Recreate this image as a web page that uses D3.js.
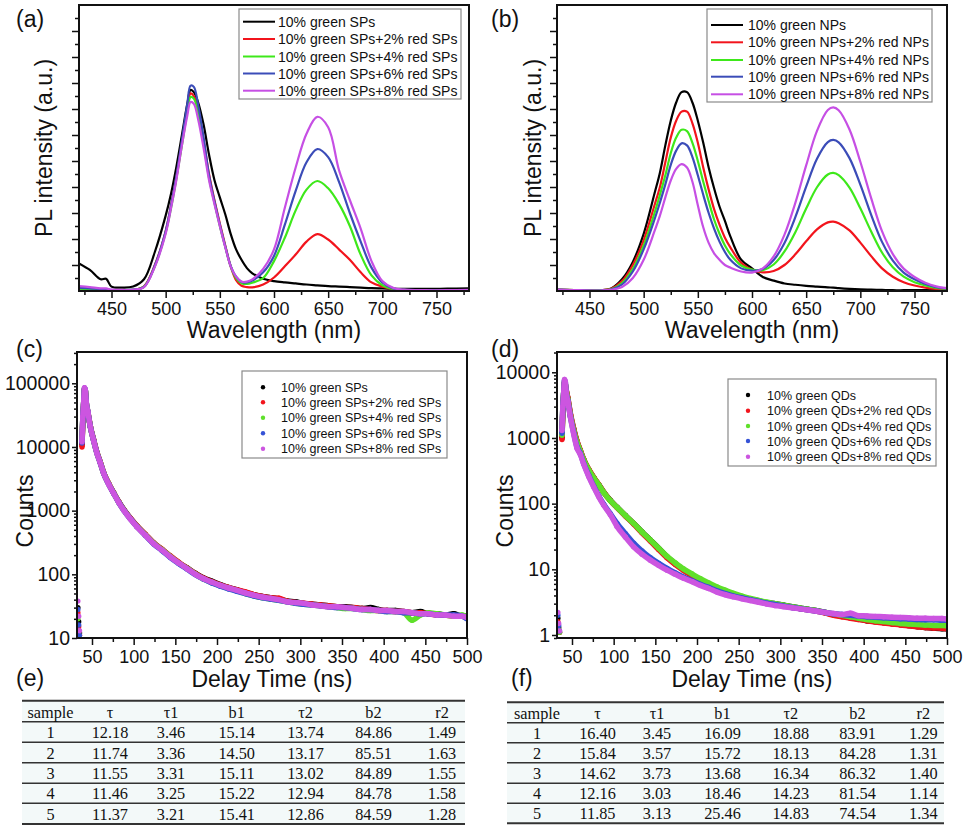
<!DOCTYPE html>
<html>
<head>
<meta charset="utf-8">
<script src="https://cdn.jsdelivr.net/npm/d3@7"></script>
<style>
  body { margin: 0; background: #fff; }
  svg { display: block; font-family: "Liberation Sans", Arial, sans-serif; }
</style>
</head>
<body>
<svg id="fig" width="967" height="829"></svg>
<script>
// ---- (a) PL spectra, SPs ----
var wlA = [420,430,440,445,450,460,470,480,490,500,505,510,515,520,523,526,530,535,540,545,550,555,560,565,570,575,580,590,600,610,620,630,640,650,660,670,680,690,700,710,720,740,760,780];
var aBlack  = [1.06,0.81,0.45,0.47,0.17,0.13,0.17,0.45,1.5,2.9,3.75,4.8,6.0,7.2,7.73,7.65,7.25,6.4,5.25,4.27,3.6,2.95,2.2,1.6,1.2,0.88,0.68,0.47,0.38,0.33,0.29,0.25,0.22,0.19,0.17,0.15,0.13,0.11,0.1,0.09,0.08,0.08,0.09,0.1];
var aRed    = [0.05,0.04,0.03,0.03,0.02,0.02,0.04,0.18,1.0,2.3,3.3,4.4,5.7,7.0,7.6,7.5,6.95,5.8,4.5,3.5,2.6,1.75,0.95,0.42,0.2,0.15,0.14,0.25,0.52,0.95,1.4,1.9,2.19,1.98,1.6,1.2,0.72,0.33,0.17,0.08,0.04,0.03,0.03,0.03];
var aGreen  = [0.06,0.05,0.04,0.04,0.03,0.03,0.05,0.17,0.95,2.25,3.2,4.35,5.6,6.9,7.46,7.4,6.85,5.7,4.35,3.4,2.5,1.7,0.95,0.5,0.3,0.27,0.32,0.5,1.15,2.05,3.1,3.9,4.23,3.95,3.35,2.5,1.4,0.6,0.22,0.08,0.04,0.03,0.03,0.03];
var aBlue   = [0.12,0.1,0.07,0.07,0.04,0.03,0.05,0.16,0.98,2.3,3.3,4.45,5.8,7.2,7.9,7.85,7.15,5.9,4.45,3.45,2.55,1.72,0.97,0.55,0.35,0.33,0.4,0.72,1.35,2.55,3.85,4.95,5.46,5.15,4.2,3.0,1.9,0.9,0.33,0.1,0.05,0.03,0.03,0.03];
var aPurple = [0.19,0.15,0.1,0.1,0.05,0.04,0.05,0.15,0.93,2.2,3.2,4.3,5.6,6.75,7.27,7.2,6.6,5.5,4.27,3.35,2.5,1.68,0.95,0.55,0.36,0.36,0.45,0.85,1.6,3.2,4.75,6.05,6.7,6.3,4.65,3.5,2.4,1.15,0.38,0.12,0.05,0.03,0.03,0.04];
var legendA = ["10% green SPs","10% green SPs+2% red SPs","10% green SPs+4% red SPs","10% green SPs+6% red SPs","10% green SPs+8% red SPs"];

// ---- (b) PL spectra, NPs ----
var wlB = [420,440,460,470,480,490,500,510,515,520,525,530,535,540,545,550,555,560,565,570,575,580,590,600,610,620,630,640,650,660,670,675,680,690,700,710,720,730,740,750,760,770,780];
var bBlack  = [0.05,0.03,0.03,0.1,0.45,1.12,2.2,3.75,4.55,5.6,6.55,7.25,7.65,7.65,7.25,6.55,5.7,4.75,3.95,3.25,2.7,2.1,1.2,0.87,0.54,0.4,0.29,0.24,0.2,0.17,0.14,0.13,0.11,0.08,0.06,0.05,0.04,0.03,0.03,0.03,0.03,0.03,0.03];
var bRed    = [0.05,0.03,0.03,0.09,0.38,1.0,1.95,3.3,4.0,4.95,5.9,6.55,6.9,6.9,6.45,5.7,4.75,3.9,3.15,2.55,2.05,1.68,1.08,0.82,0.72,0.77,1.0,1.41,1.91,2.37,2.64,2.67,2.61,2.33,1.86,1.34,0.87,0.55,0.34,0.21,0.13,0.08,0.05];
var bGreen  = [0.05,0.03,0.03,0.07,0.3,0.85,1.75,3.0,3.7,4.45,5.3,5.9,6.2,6.15,5.7,5.0,4.2,3.45,2.75,2.2,1.75,1.42,0.98,0.82,0.8,1.02,1.52,2.26,3.17,3.99,4.48,4.54,4.46,3.98,3.18,2.29,1.48,0.91,0.55,0.34,0.21,0.12,0.08];
var bBlue   = [0.05,0.03,0.02,0.06,0.25,0.75,1.6,2.75,3.4,4.1,4.85,5.4,5.68,5.6,5.15,4.45,3.7,3.0,2.4,1.9,1.5,1.2,0.87,0.78,0.85,1.19,1.85,2.84,4.01,5.09,5.73,5.81,5.72,5.11,4.09,2.93,1.89,1.17,0.71,0.45,0.27,0.15,0.1];
var bPurple = [0.05,0.03,0.02,0.04,0.15,0.5,1.2,2.3,2.9,3.6,4.25,4.7,4.88,4.75,4.2,3.3,2.45,1.85,1.45,1.2,1.0,0.9,0.75,0.71,0.87,1.33,2.17,3.39,4.83,6.16,6.96,7.06,6.95,6.21,4.97,3.57,2.3,1.42,0.86,0.54,0.32,0.18,0.11];
var legendB = ["10% green NPs","10% green NPs+2% red NPs","10% green NPs+4% red NPs","10% green NPs+6% red NPs","10% green NPs+8% red NPs"];

// ---- (c)/(d) decay curves ----
var delayT = [33,34,35,38,39,40,41,42,43,45,48,52,56,60,64,70,76,82,88,96,104,114,124,134,144,154,164,174,184,194,204,214,224,234,244,254,264,274,284,294,304,314,324,334,344,354,364,374,384,394,404,414,424,434,444,454,464,474,484,494,500];
var cBlack  = [30,18,12,11000,28000,47000,80000,75000,50000,35000,21000,12800,8100,5700,3900,2650,1900,1380,1050,760,570,420,310,245,192,152,126,104,88,78,69,62,57,52,48,45,43,41,38,37,35,34,33,32,31,31,30,29,30,28,27,27,26,25,26,24,24,23,24,22,22];
var cRed    = [25,15,11,10000,27000,48000,82000,76000,51000,35500,21200,12900,8150,5750,3950,2680,1910,1390,1040,765,575,425,312,248,195,155,126,103,87,76,68,62,57,53,48,45,43,42,38,36,35,34,33,32,31,30,30,29,28,27,27,26,26,25,25,24,23,23,22,22,21];
var cGreen  = [20,12,10,12500,29000,49000,83000,77000,51500,35800,20900,12600,8000,5650,3880,2620,1880,1360,1030,750,565,415,306,244,190,151,124,101,84,74,66,60,55,50,46,43,41,39,37,35,34,33,32,31,30,29,29,28,27,27,26,26,25,19,23,25,24,23,22,23,21];
var cBlue   = [28,16,11,11500,29500,49500,84000,77500,51800,35900,20700,12500,7950,5600,3860,2610,1870,1355,1020,745,558,408,300,236,184,148,121,99,84,73,65,59,54,50,46,43,41,39,37,35,34,33,32,31,30,30,29,28,28,27,26,26,25,25,24,24,23,23,23,22,20];
var cPurple = [38,22,13,12000,30000,50000,85000,78000,52000,36000,20800,12500,7900,5600,3850,2600,1860,1350,1020,740,556,410,302,240,187,150,123,100,85,75,67,61,56,51,47,44,42,40,37,36,35,33,32,31,31,30,29,28,28,27,27,26,26,25,24,24,23,23,22,22,21];
var legendC = legendA;

var dBlack  = [1.8,1.3,1.1,1000,2800,4700,7000,6500,5400,4000,2300,1350,880,640,470,330,250,195,150,112,88,66,50,37,28,21,15.5,12.2,9.8,8.2,6.9,6.0,5.2,4.6,4.1,3.8,3.5,3.3,3.1,3.0,2.85,2.7,2.55,2.45,2.35,2.2,2.05,1.95,1.85,1.75,1.65,1.6,1.55,1.5,1.45,1.4,1.35,1.3,1.27,1.25,1.25];
var dRed    = [1.6,1.2,1.1,950,2600,4500,6800,6400,5400,4100,2400,1400,900,650,475,335,252,196,150,111,87,65,49,36,27,20,15,11.8,9.6,8.0,6.8,5.9,5.1,4.5,4.0,3.7,3.45,3.25,3.05,2.95,2.8,2.65,2.5,2.4,2.3,2.15,2.0,1.9,1.8,1.72,1.65,1.58,1.52,1.47,1.42,1.38,1.34,1.3,1.28,1.27,1.25];
var dGreen  = [1.5,1.2,1.1,1100,2900,4900,7200,6600,5300,3900,2250,1320,860,630,465,328,248,193,148,111,88,66,50,37,28,21,15.8,12.5,10.1,8.5,7.2,6.2,5.4,4.8,4.3,3.9,3.6,3.35,3.15,3.0,2.85,2.7,2.55,2.45,2.35,2.2,2.1,2.0,1.9,1.8,1.72,1.65,1.6,1.55,1.5,1.47,1.45,1.42,1.4,1.4,1.38];
var dBlue   = [2.0,1.4,1.15,1180,3000,4800,7500,7000,5000,3700,2150,1200,730,580,410,270,185,132,98,70,50,35,25,19,15,12.3,10.3,8.8,7.6,6.7,5.9,5.3,4.7,4.25,3.9,3.65,3.45,3.25,3.05,2.9,2.75,2.62,2.5,2.4,2.3,2.2,2.1,2.05,2.0,1.95,1.9,1.87,1.83,1.8,1.77,1.75,1.72,1.7,1.7,1.68,1.68];
var dPurple = [2.2,1.5,1.15,1300,3000,4800,7800,7200,5000,3600,2100,1150,700,560,400,260,180,128,95,68,45,31,22,17,13.8,11.5,9.7,8.4,7.3,6.5,5.7,5.1,4.5,4.1,3.8,3.55,3.35,3.15,2.95,2.8,2.7,2.6,2.5,2.4,2.3,2.2,2.12,2.05,2.15,1.97,1.95,1.92,1.9,1.87,1.85,1.83,1.8,1.8,1.78,1.78,1.75];
var legendD = ["10% green QDs","10% green QDs+2% red QDs","10% green QDs+4% red QDs","10% green QDs+6% red QDs","10% green QDs+8% red QDs"];

// ---- (e)/(f) fit tables ----
var tableHead = ["sample","τ","τ1","b1","τ2","b2","r2"];
var tableE = [
  ["1","12.18","3.46","15.14","13.74","84.86","1.49"],
  ["2","11.74","3.36","14.50","13.17","85.51","1.63"],
  ["3","11.55","3.31","15.11","13.02","84.89","1.55"],
  ["4","11.46","3.25","15.22","12.94","84.78","1.58"],
  ["5","11.37","3.21","15.41","12.86","84.59","1.28"]
];
var tableF = [
  ["1","16.40","3.45","16.09","18.88","83.91","1.29"],
  ["2","15.84","3.57","15.72","18.13","84.28","1.31"],
  ["3","14.62","3.73","13.68","16.34","86.32","1.40"],
  ["4","12.16","3.03","18.46","14.23","81.54","1.14"],
  ["5","11.85","3.13","25.46","14.83","74.54","1.34"]
];

var svg = d3.select("#fig");
var lineColors = ["#000000", "#f2141c", "#3ee81a", "#3b4cb8", "#c64fe4"];
var dotColors  = ["#000000", "#f2141c", "#5fe02a", "#3552d6", "#cc55e0"];
var sansFont = '"Liberation Sans", Arial, sans-serif';

function styleAxis(sel, size) {
  sel.select(".domain").remove();
  sel.selectAll(".tick line").attr("stroke", "#111").attr("stroke-width", 1.5);
  sel.selectAll(".tick text").attr("fill", "#111")
    .style("font-size", size + "px").style("font-family", sansFont);
}

function frame(g, p) {
  g.append("rect")
    .attr("x", p.x0).attr("y", p.y0)
    .attr("width", p.x1 - p.x0).attr("height", p.y1 - p.y0)
    .attr("fill", "none").attr("stroke", "#111").attr("stroke-width", 2);
}

function drawSpectrum(p) {
  var g = svg.append("g");
  var x = d3.scaleLinear().domain([420, 780]).range([p.x0, p.x1]);
  var y = d3.scaleLinear().domain([0, 11]).range([p.y1, p.y0]);

  svg.append("clipPath").attr("id", "clip" + p.id).append("rect")
    .attr("x", p.x0).attr("y", p.y0).attr("width", p.x1 - p.x0).attr("height", p.y1 - p.y0);

  var line = d3.line()
    .x(function(d, i) { return x(p.wl[i]); })
    .y(function(d) { return y(d); })
    .curve(d3.curveCatmullRom.alpha(0.5));

  var curves = g.append("g").attr("clip-path", "url(#clip" + p.id + ")");
  p.series.forEach(function(s, k) {
    curves.append("path").attr("d", line(s))
      .attr("fill", "none").attr("stroke", lineColors[k]).attr("stroke-width", 2.2);
  });

  // x axis
  g.append("g").attr("transform", "translate(0," + p.y1 + ")")
    .call(d3.axisBottom(x).tickValues(d3.range(425, 780, 50)).tickSize(4).tickFormat(""))
    .call(styleAxis, 18);
  g.append("g").attr("transform", "translate(0," + p.y1 + ")")
    .call(d3.axisBottom(x).tickValues(d3.range(450, 751, 50)).tickSize(7).tickPadding(4))
    .call(styleAxis, 18);
  // y axis (no labels)
  g.append("g").attr("transform", "translate(" + p.x0 + ",0)")
    .call(d3.axisLeft(y).tickValues(d3.range(0.5, 11, 1)).tickSize(4).tickFormat(""))
    .call(styleAxis, 18);
  g.append("g").attr("transform", "translate(" + p.x0 + ",0)")
    .call(d3.axisLeft(y).tickValues(d3.range(1, 11, 1)).tickSize(7).tickFormat(""))
    .call(styleAxis, 18);
  frame(g, p);

  // legend
  var L = p.legend;
  g.append("rect").attr("x", L.x0).attr("y", L.y0)
    .attr("width", L.x1 - L.x0).attr("height", L.y1 - L.y0)
    .attr("fill", "#fff").attr("stroke", "#8a8a8a").attr("stroke-width", 1.2);
  p.labels.forEach(function(t, k) {
    var yy = L.rows[k];
    g.append("line").attr("x1", L.lx0).attr("x2", L.lx1).attr("y1", yy).attr("y2", yy)
      .attr("stroke", lineColors[k]).attr("stroke-width", 2);
    g.append("text").attr("x", L.tx).attr("y", yy + 5).text(t)
      .attr("font-size", 14).attr("fill", "#111");
  });

  g.append("text").text("PL intensity (a.u.)").attr("font-size", 23).attr("fill", "#111")
    .attr("text-anchor", "middle")
    .attr("transform", "translate(" + p.ylabX + "," + ((p.y0 + p.y1) / 2) + ") rotate(-90)");
  g.append("text").text("Wavelength (nm)").attr("font-size", 23).attr("fill", "#111")
    .attr("text-anchor", "middle").attr("x", (p.x0 + p.x1) / 2).attr("y", 338);
  g.append("text").text(p.tag).attr("font-size", 23).attr("fill", "#111")
    .attr("x", p.tagX).attr("y", 27);
}

function drawDecay(p) {
  var g = svg.append("g");
  var x = d3.scaleLinear().domain([32, 500]).range([p.x0, p.x1]);
  var y = d3.scaleLog().domain(p.yDom).range([p.y1, p.y0]);

  svg.append("clipPath").attr("id", "clip" + p.id).append("rect")
    .attr("x", p.x0).attr("y", p.y0).attr("width", p.x1 - p.x0).attr("height", p.y1 - p.y0);

  // the decay part of each trace is drawn as a thick band, every sample as a dot
  var line = d3.line()
    .defined(function(d, i) { return i >= 3; })
    .x(function(d, i) { return x(delayT[i]); })
    .y(function(d) { return y(d); })
    .curve(d3.curveMonotoneX);

  var marks = g.append("g").attr("clip-path", "url(#clip" + p.id + ")");
  p.series.forEach(function(s, k) {
    marks.append("path").attr("d", line(s))
      .attr("fill", "none").attr("stroke", dotColors[k]).attr("stroke-width", 5.5)
      .attr("stroke-linejoin", "round");
    marks.append("g").selectAll("circle").data(s).enter().append("circle")
      .attr("cx", function(d, i) { return x(delayT[i]); })
      .attr("cy", function(d) { return y(d); })
      .attr("r", 2.7).attr("fill", dotColors[k]);
  });

  // x axis
  g.append("g").attr("transform", "translate(0," + p.y1 + ")")
    .call(d3.axisBottom(x).tickValues(d3.range(75, 500, 50)).tickSize(4).tickFormat(""))
    .call(styleAxis, 18);
  g.append("g").attr("transform", "translate(0," + p.y1 + ")")
    .call(d3.axisBottom(x).tickValues(d3.range(50, 501, 50)).tickSize(7).tickPadding(5))
    .call(styleAxis, 18);

  // y axis, log
  var minor = [];
  for (var e = -1; e <= 5; e++) {
    for (var m = 2; m < 10; m++) {
      var v = m * Math.pow(10, e);
      if (v >= p.yDom[0] && v <= p.yDom[1]) minor.push(v);
    }
  }
  g.append("g").attr("transform", "translate(" + p.x0 + ",0)")
    .call(d3.axisLeft(y).tickValues(minor).tickSize(3).tickFormat(""))
    .call(styleAxis, 19.5);
  g.append("g").attr("transform", "translate(" + p.x0 + ",0)")
    .call(d3.axisLeft(y).tickValues(p.majors).tickSize(5).tickPadding(2).tickFormat(d3.format("d")))
    .call(styleAxis, 19.5);
  frame(g, p);

  // legend
  var L = p.legend;
  g.append("rect").attr("x", L.x0).attr("y", L.y0)
    .attr("width", L.x1 - L.x0).attr("height", L.y1 - L.y0)
    .attr("fill", "#fff").attr("stroke", "#8a8a8a").attr("stroke-width", 1.2);
  p.labels.forEach(function(t, k) {
    var yy = L.rows[k];
    g.append("circle").attr("cx", L.dx).attr("cy", yy).attr("r", 2.2).attr("fill", dotColors[k]);
    g.append("text").attr("x", L.tx).attr("y", yy + 4.5).text(t)
      .attr("font-size", 12.5).attr("fill", "#111");
  });

  g.append("text").text("Counts").attr("font-size", 23).attr("fill", "#111")
    .attr("text-anchor", "middle")
    .attr("transform", "translate(" + p.ylabX + ",511) rotate(-90)");
  g.append("text").text("Delay Time (ns)").attr("font-size", 23).attr("fill", "#111")
    .attr("text-anchor", "middle").attr("x", (p.x0 + p.x1) / 2).attr("y", 687);
  g.append("text").text(p.tag).attr("font-size", 23).attr("fill", "#111")
    .attr("x", p.tagX).attr("y", 357);
}

function drawTable(p) {
  var g = svg.append("g").style("font-family", '"Liberation Serif", "Times New Roman", serif');
  var ys = p.lines;
  g.append("rect").attr("x", p.x0).attr("y", ys[0])
    .attr("width", p.x1 - p.x0).attr("height", ys[ys.length - 1] - ys[0])
    .attr("fill", "#f3f9f9");
  ys.forEach(function(yy, i) {
    g.append("line").attr("x1", p.x0).attr("x2", p.x1).attr("y1", yy).attr("y2", yy)
      .attr("stroke", "#333").attr("stroke-width", (i === 0 || i === ys.length - 1) ? 2 : 1.6);
  });
  var rows = [tableHead].concat(p.rows);
  rows.forEach(function(r, i) {
    r.forEach(function(c, j) {
      g.append("text").attr("x", p.cols[j]).attr("y", ys[i + 1] - 4)
        .attr("text-anchor", "middle").attr("font-size", 16.3).attr("fill", "#111").text(c);
    });
  });
  g.append("text").text(p.tag).attr("font-size", 23).attr("fill", "#111")
    .style("font-family", sansFont).attr("x", p.tagX).attr("y", 686);
}

drawSpectrum({
  id: "a", tag: "(a)", tagX: 16, x0: 79, x1: 469, y0: 5, y1: 291, ylabX: 52,
  wl: wlA, series: [aBlack, aRed, aGreen, aBlue, aPurple], labels: legendA,
  legend: { x0: 239, x1: 461, y0: 9, y1: 99, lx0: 243, lx1: 275, tx: 278, rows: [21.7, 39, 56.5, 73.5, 90.7] }
});
drawSpectrum({
  id: "b", tag: "(b)", tagX: 491, x0: 557, x1: 947, y0: 5, y1: 291, ylabX: 541,
  wl: wlB, series: [bBlack, bRed, bGreen, bBlue, bPurple], labels: legendB,
  legend: { x0: 707, x1: 932, y0: 9, y1: 102, lx0: 711, lx1: 743, tx: 748, rows: [25, 42.3, 60, 76.7, 94.3] }
});
drawDecay({
  id: "c", tag: "(c)", tagX: 16, x0: 77, x1: 467, y0: 352, y1: 638, ylabX: 33,
  yDom: [10, 310000], majors: [10, 100, 1000, 10000, 100000],
  series: [cBlack, cRed, cGreen, cBlue, cPurple], labels: legendC,
  legend: { x0: 242, x1: 447, y0: 371, y1: 458, dx: 263, tx: 281, rows: [387.3, 402.3, 417.7, 433.3, 448.7] }
});
drawDecay({
  id: "d", tag: "(d)", tagX: 491, x0: 557, x1: 947, y0: 352, y1: 638, ylabX: 513,
  yDom: [0.9, 20370], majors: [1, 10, 100, 1000, 10000],
  series: [dBlack, dRed, dGreen, dBlue, dPurple], labels: legendD,
  legend: { x0: 728, x1: 936, y0: 379, y1: 466, dx: 748, tx: 767, rows: [395, 410.7, 426, 441, 456.7] }
});
drawTable({
  tag: "(e)", tagX: 16, x0: 22, x1: 465, rows: tableE,
  lines: [700.7, 721.7, 742.3, 762.7, 783.3, 803.3, 824],
  cols: [50.5, 110, 171, 236.7, 305.5, 373.5, 442]
});
drawTable({
  tag: "(f)", tagX: 511, x0: 507, x1: 944, rows: tableF,
  lines: [702.3, 722.7, 742.7, 762.7, 783.3, 803.3, 823.3],
  cols: [537, 597.5, 657, 722.5, 790.8, 857.5, 923.3]
});
</script>
</body>
</html>
